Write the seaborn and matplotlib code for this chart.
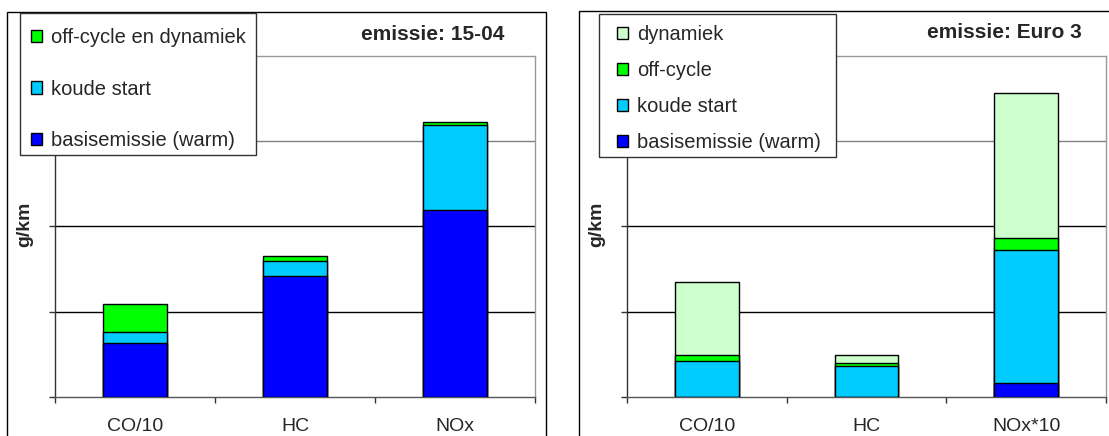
import matplotlib
matplotlib.use("Agg")
import matplotlib.pyplot as plt
from matplotlib.patches import Patch, Rectangle
import numpy as np
import seaborn as sns

sns.set_style("white")
plt.rcParams["font.family"] = ["Liberation Sans", "DejaVu Sans"]

# --- data -------------------------------------------------------------
categories_1504 = ["CO/10", "HC", "NOx"]
basis_1504 = [0.63, 1.42, 2.19]
koude_1504 = [0.13, 0.18, 1.00]
offdyn_1504 = [0.33, 0.05, 0.03]

categories_euro3 = ["CO/10", "HC", "NOx*10"]
basis_euro3 = [0.005, 0.005, 0.164]
koude_euro3 = [0.42, 0.36, 1.566]
offcycle_euro3 = [0.067, 0.035, 0.133]
dynamiek_euro3 = [0.853, 0.09, 1.706]

labels_1504 = ["off-cycle en dynamiek", "koude start", "basisemissie (warm)"]
labels_euro3 = ["dynamiek", "off-cycle", "koude start", "basisemissie (warm)"]

BLUE = "#0000FF"
CYAN = "#00CCFF"
GREEN = "#00FF00"
LIGHTGREEN = "#CCFFCC"

FS_TICK = 14
FS_LEG = 14.5
FS_TITLE = 15
W, H = 1109, 436
fig = plt.figure(figsize=(W / 100, H / 100), dpi=100)


def px_box(left, top, right, bottom):
    return [left / W, 1 - bottom / H, (right - left) / W, (bottom - top) / H]


def px_rect(left, top, right, bottom, **kw):
    return Rectangle((left / W, 1 - bottom / H), (right - left) / W,
                     (bottom - top) / H, transform=fig.transFigure, **kw)


def stacked(ax, cats, layers, colors):
    """Draw stacked bars: cumulative totals, tallest first."""
    cum = np.cumsum(np.array(layers, dtype=float), axis=0)
    for i in range(len(layers) - 1, -1, -1):
        sns.barplot(x=cats, y=cum[i], color=colors[i], saturation=1,
                    width=0.4, edgecolor="black", linewidth=1.0,
                    ax=ax, zorder=3)


def style_axes(ax, cats):
    ax.set_xlim(-0.5, 2.5)
    ax.set_ylim(0, 4)
    ax.set_yticks([0, 1, 2, 3, 4])
    ax.set_yticklabels([])
    ax.tick_params(axis="y", which="major", direction="out", length=4.5,
                   width=1, color="#333333", left=True)
    ax.set_xticks([-0.5, 0.5, 1.5, 2.5])
    ax.set_xticklabels([])
    ax.tick_params(axis="x", which="major", direction="out", length=4.5,
                   width=1, color="#333333", bottom=True)
    ax.set_xticks([0, 1, 2], minor=True)
    ax.set_xticklabels(cats, minor=True)
    ax.tick_params(axis="x", which="minor", length=0, pad=15,
                   labelsize=FS_TICK)
    for y, c in [(1, "black"), (2, "black"), (3, "#808080")]:
        ax.axhline(y, color=c, lw=1.0, zorder=1)
    ax.spines["left"].set_color("#333333")
    ax.spines["bottom"].set_color("#555555")
    ax.spines["top"].set_color("#999999")
    ax.spines["right"].set_color("#999999")
    for s in ax.spines.values():
        s.set_linewidth(1.0)
        s.set_visible(True)
    ax.set_xlabel("")
    ax.set_ylabel("")


# outer chart frames
fig.patches.append(px_rect(7, 12, 546, 460, fill=False, ec="black", lw=1.0))
fig.patches.append(px_rect(579, 11, 1140, 460, fill=False, ec="black", lw=1.0))

# --- left panel: 15-04 ------------------------------------------------
ax1 = fig.add_axes(px_box(55, 56, 535, 397))
stacked(ax1, categories_1504, [basis_1504, koude_1504, offdyn_1504],
        [BLUE, CYAN, GREEN])
style_axes(ax1, categories_1504)

# --- right panel: Euro 3 ----------------------------------------------
ax2 = fig.add_axes(px_box(627, 56, 1106, 397))
stacked(ax2, categories_euro3,
        [basis_euro3, koude_euro3, offcycle_euro3, dynamiek_euro3],
        [BLUE, CYAN, GREEN, LIGHTGREEN])
style_axes(ax2, categories_euro3)

# axis titles (unit) and panel headers
for xpx in (25, 597):
    fig.text(xpx / W, 1 - 224 / H, "g/km", rotation=90, ha="center",
             va="center", fontsize=FS_TICK, fontweight="bold")
fig.text(504 / W, 1 - 34 / H, "emissie: 15-04", ha="right", va="center",
         fontsize=FS_TITLE, fontweight="bold")
fig.text(1082 / W, 1 - 32 / H, "emissie: Euro 3", ha="right", va="center",
         fontsize=FS_TITLE, fontweight="bold")


def legend(labels, colors, box, x0, y0, spacing):
    # legend frame drawn as a plain rectangle, entries placed inside it
    fig.patches.append(px_rect(*box, facecolor="white", edgecolor="#333333",
                               lw=1.0, zorder=9))
    handles = [Patch(facecolor=c, edgecolor="black", lw=1.0) for c in colors]
    leg = fig.legend(handles, labels, loc="upper left",
                     bbox_to_anchor=(x0 / W, 1 - y0 / H),
                     fontsize=FS_LEG, frameon=False,
                     borderpad=0, handlelength=0.55, handleheight=0.55,
                     handletextpad=0.45, labelspacing=spacing,
                     borderaxespad=0)
    leg.set_zorder(10)
    return leg


legend(labels_1504, [GREEN, CYAN, BLUE], (20, 13, 256, 155), 31, 28, 1.62)
legend(labels_euro3, [LIGHTGREEN, GREEN, CYAN, BLUE], (599, 14, 836, 157),
       617, 25, 0.84)

fig.savefig("out.png", dpi=100)
